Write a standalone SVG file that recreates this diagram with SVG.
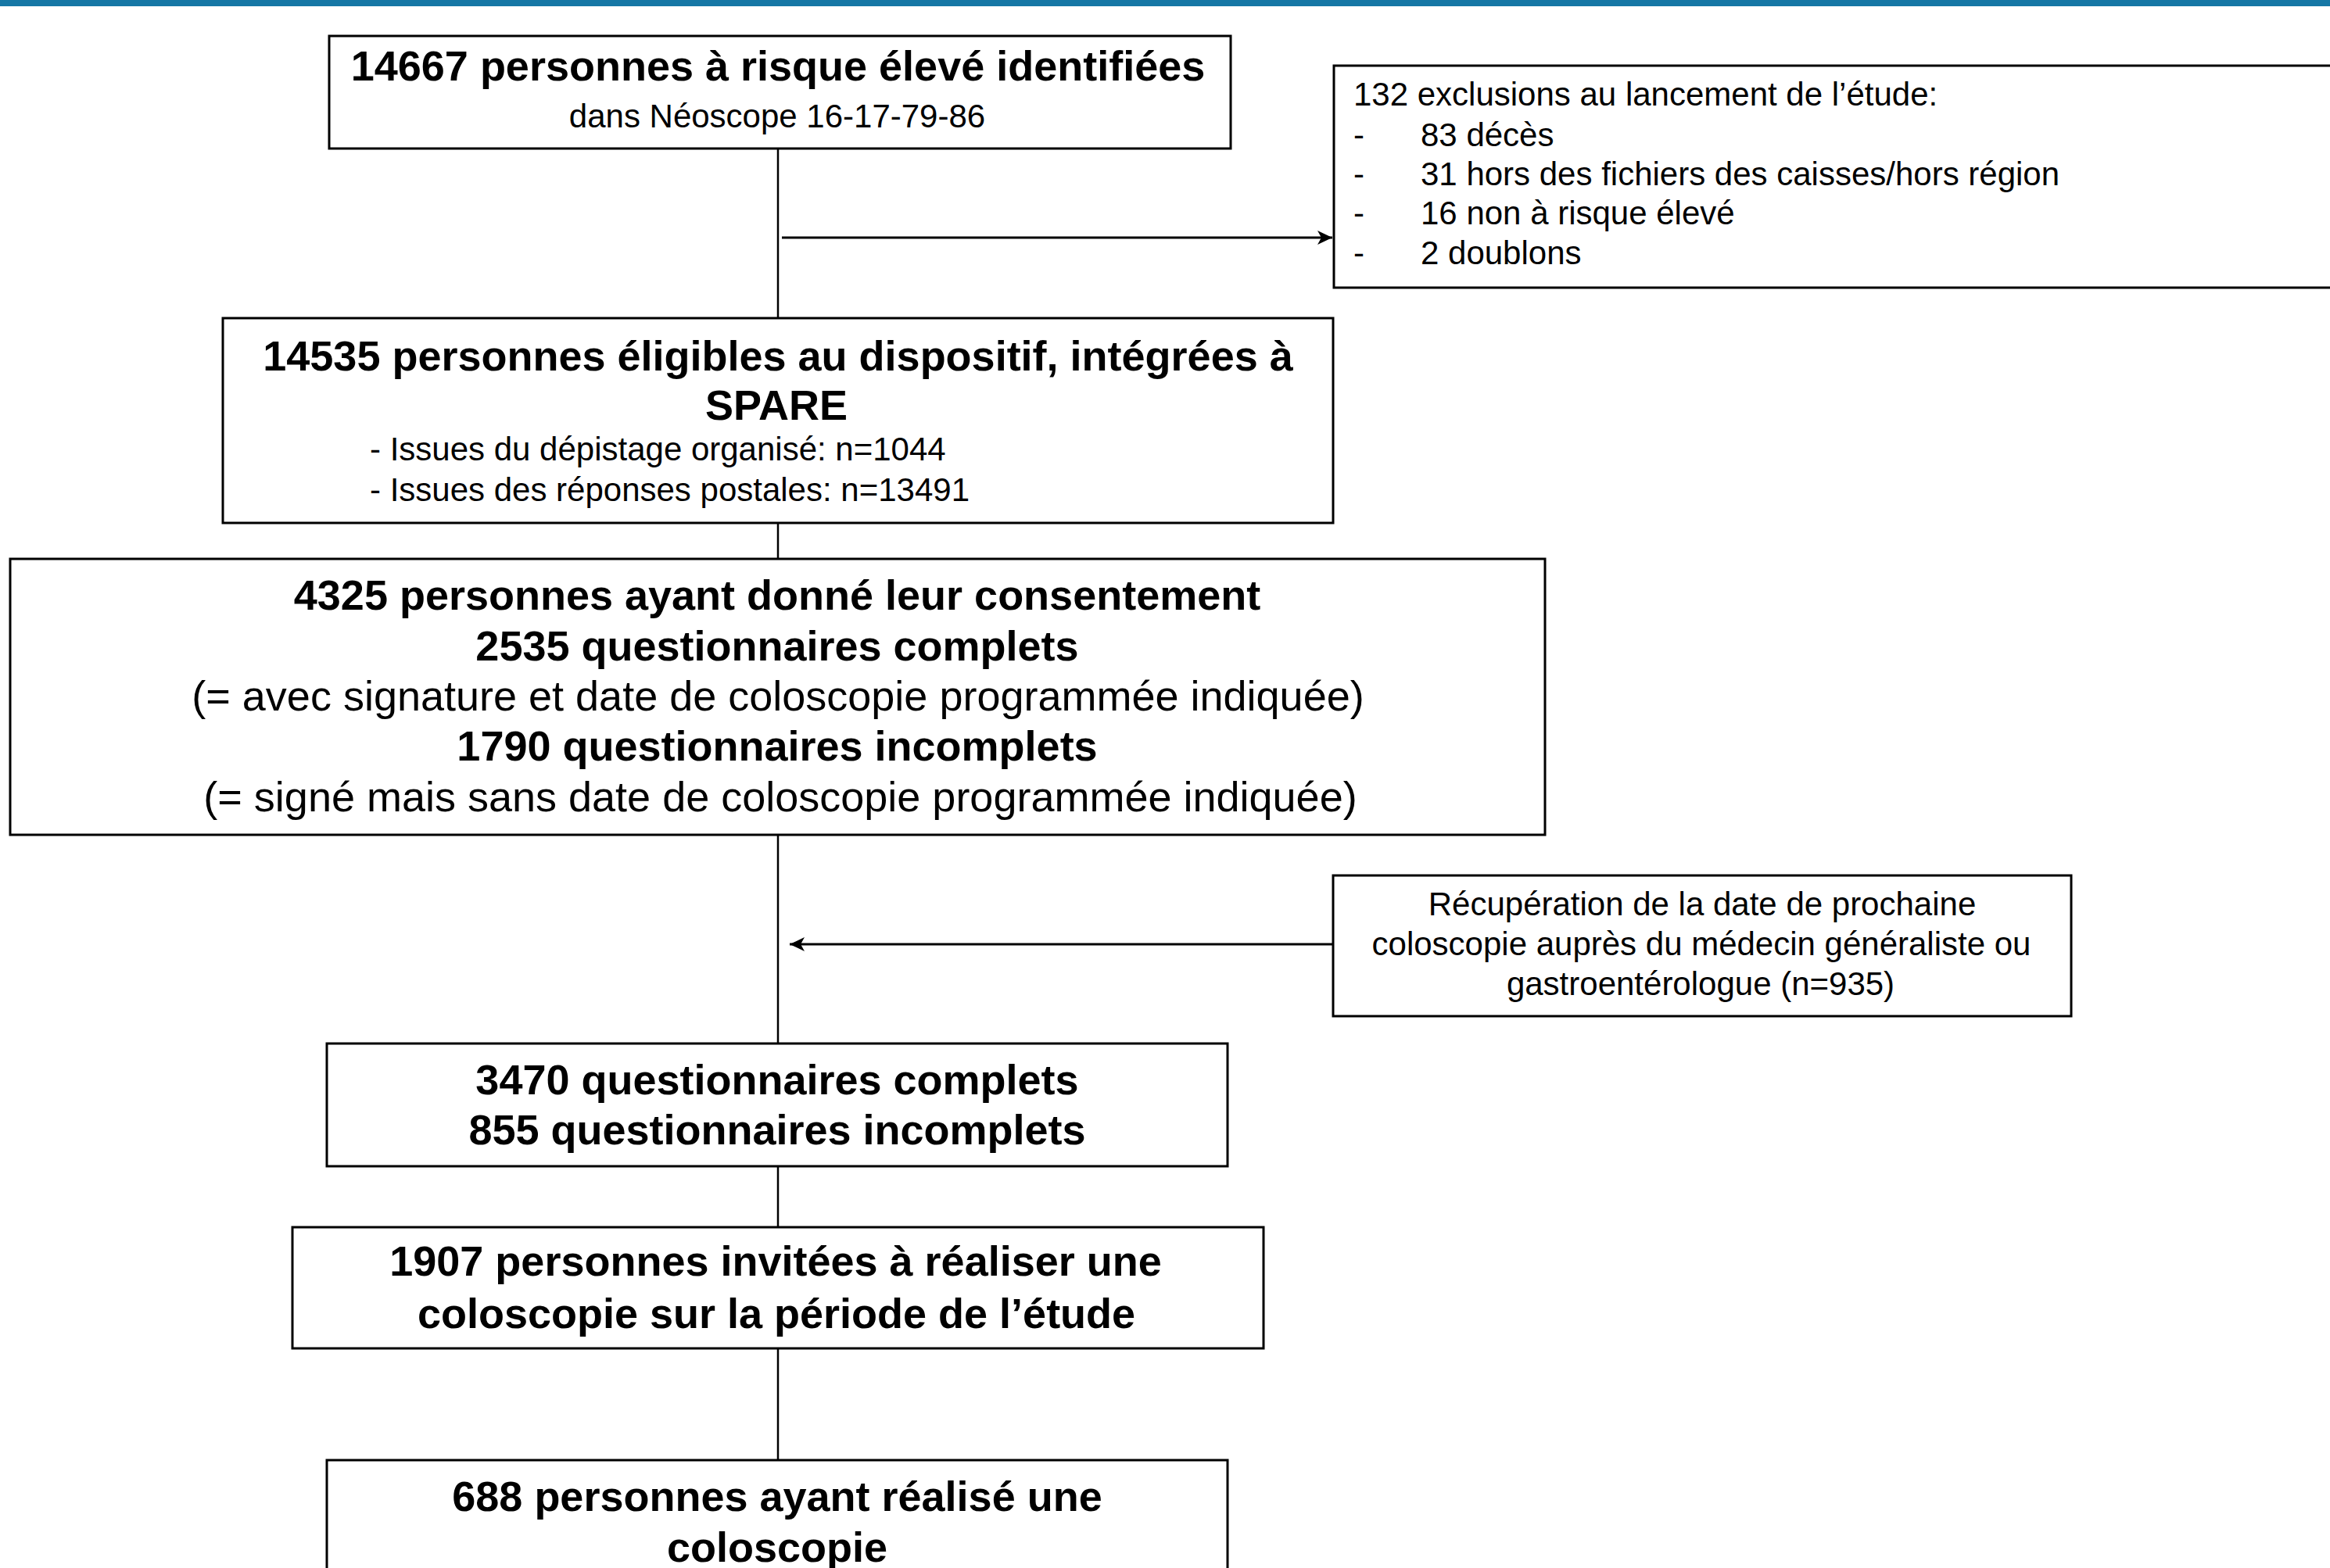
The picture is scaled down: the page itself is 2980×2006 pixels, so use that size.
<svg xmlns="http://www.w3.org/2000/svg" width="2980" height="2006" viewBox="0 0 2980 2006">
<style>
.box{fill:#fff;stroke:#000;stroke-width:3}
.t{font-family:"Liberation Sans",Arial,sans-serif;fill:#000}
.b{font-weight:bold;font-size:54px;text-anchor:middle}
.r{font-size:54px;text-anchor:middle}
.s{font-size:42px}
.sc{font-size:42px;text-anchor:middle}
.trunk{stroke:#000;stroke-width:2.5;fill:none}
.arr{stroke:#000;stroke-width:3;fill:none}
</style>
<defs>
<marker id="ah" markerUnits="userSpaceOnUse" markerWidth="20" markerHeight="20" refX="19" refY="10" orient="auto">
<path d="M0,1 L19,10 L0,19 L5,10 z" fill="#000"/>
</marker>
</defs>
<rect x="0" y="0" width="2980" height="2006" fill="#fff"/>
<rect x="0" y="0" width="2980" height="8" fill="#1677a5"/>

<g id="connectors">
<line class="trunk" x1="995" y1="190" x2="995" y2="407"/>
<line class="trunk" x1="995" y1="669" x2="995" y2="715"/>
<line class="trunk" x1="995" y1="1068" x2="995" y2="1335"/>
<line class="trunk" x1="995" y1="1492" x2="995" y2="1570"/>
<line class="trunk" x1="995" y1="1725" x2="995" y2="1868"/>
<line class="arr" x1="1000" y1="304" x2="1704" y2="304" marker-end="url(#ah)"/>
<line class="arr" x1="1705" y1="1208" x2="1010" y2="1208" marker-end="url(#ah)"/>
</g>

<g id="n1">
<rect class="box" x="421" y="46" width="1153" height="144"/>
<text class="t b" x="995" y="103">14667 personnes à risque élevé identifiées</text>
<text class="t sc" x="994" y="163">dans Néoscope 16-17-79-86</text>
</g>

<g id="n_excl">
<rect class="box" x="1706" y="84" width="1300" height="284"/>
<text class="t s" x="1731" y="135">132 exclusions au lancement de l’étude:</text>
<text class="t s" x="1731" y="187">-</text><text class="t s" x="1817" y="187">83 décès</text>
<text class="t s" x="1731" y="237">-</text><text class="t s" x="1817" y="237">31 hors des fichiers des caisses/hors région</text>
<text class="t s" x="1731" y="287">-</text><text class="t s" x="1817" y="287">16 non à risque élevé</text>
<text class="t s" x="1731" y="338">-</text><text class="t s" x="1817" y="338">2 doublons</text>
</g>

<g id="n2">
<rect class="box" x="285" y="407" width="1420" height="262"/>
<text class="t b" x="995" y="474">14535 personnes éligibles au dispositif, intégrées à</text>
<text class="t b" x="993" y="537">SPARE</text>
<text class="t s" x="473" y="589">- Issues du dépistage organisé: n=1044</text>
<text class="t s" x="473" y="641">- Issues des réponses postales: n=13491</text>
</g>

<g id="n3">
<rect class="box" x="13" y="715" width="1963" height="353"/>
<text class="t b" x="994" y="780">4325 personnes ayant donné leur consentement</text>
<text class="t b" x="994" y="845">2535 questionnaires complets</text>
<text class="t r" x="995" y="909">(= avec signature et date de coloscopie programmée indiquée)</text>
<text class="t b" x="994" y="973">1790 questionnaires incomplets</text>
<text class="t r" x="998" y="1038">(= signé mais sans date de coloscopie programmée indiquée)</text>
</g>

<g id="n_recup">
<rect class="box" x="1705" y="1120" width="944" height="180"/>
<text class="t sc" x="2177" y="1171">Récupération de la date de prochaine</text>
<text class="t sc" x="2176" y="1222">coloscopie auprès du médecin généraliste ou</text>
<text class="t sc" x="2175" y="1273">gastroentérologue (n=935)</text>
</g>

<g id="n5">
<rect class="box" x="418" y="1335" width="1152" height="157"/>
<text class="t b" x="994" y="1400">3470 questionnaires complets</text>
<text class="t b" x="994" y="1464">855 questionnaires incomplets</text>
</g>

<g id="n6">
<rect class="box" x="374" y="1570" width="1242" height="155"/>
<text class="t b" x="992" y="1632">1907 personnes invitées à réaliser une</text>
<text class="t b" x="993" y="1699">coloscopie sur la période de l’étude</text>
</g>

<g id="n7">
<rect class="box" x="418" y="1868" width="1152" height="160"/>
<text class="t b" x="994" y="1933">688 personnes ayant réalisé une</text>
<text class="t b" x="994" y="1998">coloscopie</text>
</g>
</svg>
